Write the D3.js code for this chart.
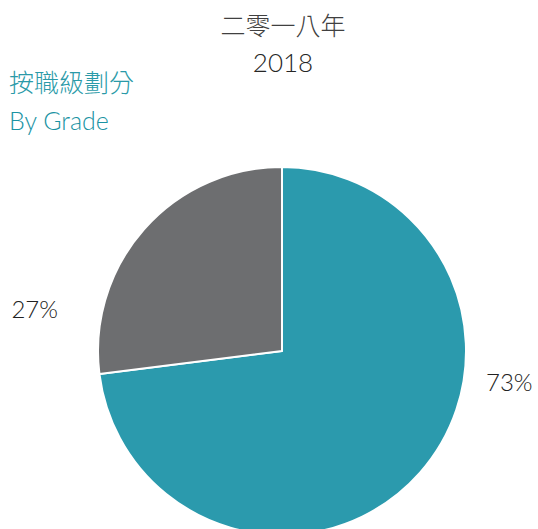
<!DOCTYPE html>
<html>
<head>
<meta charset="utf-8">
<script src="https://cdn.jsdelivr.net/npm/d3@7"></script>
<style>
  html, body { margin: 0; padding: 0; background: #fff; }
  svg { display: block; }
  text { font-family: Lato, "Noto Sans CJK TC", sans-serif; }
</style>
</head>
<body>
<svg id="chart" width="538" height="529"></svg>
<script>
// data
var grades = ['A', 'B'];
var shares = [73, 27];
var colors = ['#2b9aad', '#6d6e70'];
var titleLines = ['二零一八年', '2018'];
var subtitleLines = ['按職級劃分', 'By Grade'];

var width = 538, height = 529;
var cx = 282, cy = 351, radius = 184;

var svg = d3.select('#chart');

// titles (first line chinese, second latin)
svg.selectAll('.title')
    .data(titleLines)
    .enter()
    .append('text')
    .attr('class', 'title')
    .attr('x', 283)
    .attr('y', (d, i) => 35 + i * 37)
    .attr('text-anchor', 'middle')
    .attr('fill', (d, i) => i ? '#262626' : '#404040')
    .attr('font-size', (d, i) => i ? 26 : 25)
    .attr('font-weight', 300)
    .text(d => d);

svg.selectAll('.subtitle')
    .data(subtitleLines)
    .enter()
    .append('text')
    .attr('class', 'subtitle')
    .attr('x', 9)
    .attr('y', (d, i) => 92 + i * 38)
    .attr('fill', (d, i) => i ? '#1a93a3' : '#2a9aa8')
    .attr('font-size', 25)
    .attr('font-weight', 300)
    .text(d => d);

// pie
var pie = d3.pie().sort(null).value(d => d);
var arc = d3.arc().innerRadius(0).outerRadius(radius);

var g = svg.append('g').attr('transform', `translate(${cx} ${cy})`);

var slices = pie(shares);

g.selectAll('path')
    .data(slices)
    .enter()
    .append('path')
    .attr('d', arc)
    .attr('fill', (d, i) => colors[i])
    .attr('stroke', '#fff')
    .attr('stroke-width', 2)
    .attr('stroke-linejoin', 'round');

// labels, pushed to the side of the pie
g.selectAll('.label')
    .data(slices)
    .enter()
    .append('text')
    .attr('class', 'label')
    .each(function(d) {
        var mid = (d.startAngle + d.endAngle) / 2;
        var side = Math.sin(mid) > 0 ? 1 : -1;
        var pad = side > 0 ? 20 : 40;
        d3.select(this)
            .attr('x', side * (radius + pad))
            .attr('y', -Math.cos(mid) * radius * 0.3)
            .attr('text-anchor', side > 0 ? 'start' : 'end');
    })
    .attr('dy', '0.15em')
    .attr('fill', '#222')
    .attr('font-size', 24)
    .attr('font-weight', 300)
    .text(d => d.data + '%');
</script>
</body>
</html>
